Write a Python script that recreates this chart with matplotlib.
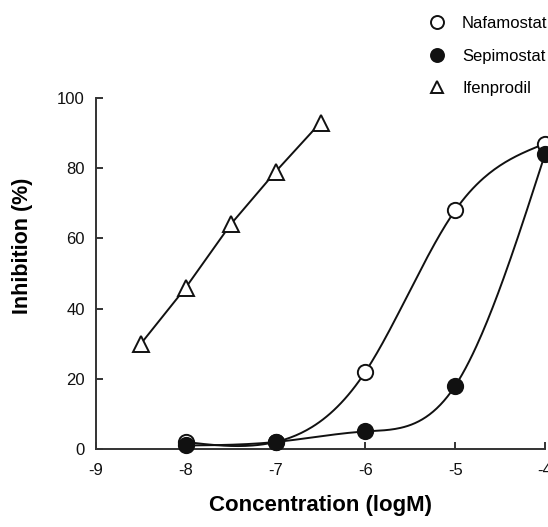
import numpy as np
import matplotlib
matplotlib.use("Agg")
import matplotlib.pyplot as plt

plt.rcParams['font.family'] = ['Liberation Sans', 'DejaVu Sans']

# Data
naf_x = [-8, -7, -6, -5, -4]
naf_y = [2, 2, 22, 68, 87]
sep_x = [-8, -7, -6, -5, -4]
sep_y = [1, 2, 5, 18, 84]
ifen_x = [-8.5, -8, -7.5, -7, -6.5]
ifen_y = [30, 46, 64, 79, 93]
xticks = [-9, -8, -7, -6, -5, -4]
yticks = [0, 20, 40, 60, 80, 100]


def natural_spline(x, y, n=200):
    x = np.asarray(x, float)
    y = np.asarray(y, float)
    m = len(x)
    h = np.diff(x)
    A = np.zeros((m, m))
    b = np.zeros(m)
    A[0, 0] = 1
    A[-1, -1] = 1
    for i in range(1, m - 1):
        A[i, i - 1] = h[i - 1]
        A[i, i] = 2 * (h[i - 1] + h[i])
        A[i, i + 1] = h[i]
        b[i] = 6 * ((y[i + 1] - y[i]) / h[i] - (y[i] - y[i - 1]) / h[i - 1])
    M = np.linalg.solve(A, b)
    xs = np.linspace(x[0], x[-1], n)
    ys = np.empty_like(xs)
    for k, xv in enumerate(xs):
        i = min(np.searchsorted(x, xv, side='right') - 1, m - 2)
        t1 = x[i + 1] - xv
        t0 = xv - x[i]
        ys[k] = (M[i] * t1 ** 3 / (6 * h[i]) + M[i + 1] * t0 ** 3 / (6 * h[i])
                 + (y[i] / h[i] - M[i] * h[i] / 6) * t1
                 + (y[i + 1] / h[i] - M[i + 1] * h[i] / 6) * t0)
    return xs, ys


fig = plt.figure(figsize=(5.48, 5.27), dpi=100)
ax = fig.add_axes([96 / 548, 1 - 449 / 527, (545 - 96) / 548, (449 - 98) / 527])

lc = '#111111'
ms = 11

sx, sy = natural_spline(naf_x, naf_y)
ax.plot(sx, sy, color=lc, lw=1.4, clip_on=False)
sx, sy = natural_spline(sep_x, sep_y)
ax.plot(sx, sy, color=lc, lw=1.4, clip_on=False)
ax.plot(ifen_x, ifen_y, color=lc, lw=1.4, clip_on=False)

h1, = ax.plot(naf_x, naf_y, 'o', ms=ms, mfc='white', mec=lc, mew=1.4,
              clip_on=False, zorder=3, label='Nafamostat')
h2, = ax.plot(sep_x, sep_y, 'o', ms=ms, mfc=lc, mec=lc, mew=1.4,
              clip_on=False, zorder=4, label='Sepimostat')
h3, = ax.plot(ifen_x, ifen_y, '^', ms=ms, mfc='white', mec=lc, mew=1.4,
              clip_on=False, zorder=3, label='Ifenprodil')

ax.set_xlim(-9, -4)
ax.set_ylim(0, 100)
ax.set_xticks(xticks)
ax.set_yticks(yticks)
ax.set_xticklabels([str(t) for t in xticks])
ax.spines['top'].set_visible(False)
ax.spines['right'].set_visible(False)
for s in ['left', 'bottom']:
    ax.spines[s].set_linewidth(1.4)
    ax.spines[s].set_color('#333333')
ax.tick_params(direction='in', length=5, width=1.4, colors='#333333',
               labelsize=12, labelcolor='#111111')
ax.tick_params(axis='x', pad=10)
ax.tick_params(axis='y', pad=8)

ax.set_xlabel('Concentration (logM)', fontsize=16, fontweight='bold')
ax.xaxis.set_label_coords(0.501, -0.132)
ax.set_ylabel('Inhibition (%)', fontsize=15.5, fontweight='bold')
ax.yaxis.set_label_coords(-0.14, 0.58)

leg = fig.legend(handles=[h1, h2, h3], loc='upper left',
                 bbox_to_anchor=(412 / 548, 1 - 1 / 527), frameon=False,
                 fontsize=12, labelspacing=1.05, handletextpad=0.9,
                 handlelength=1.2, markerscale=0.85)

fig.savefig('out.png', dpi=100)
